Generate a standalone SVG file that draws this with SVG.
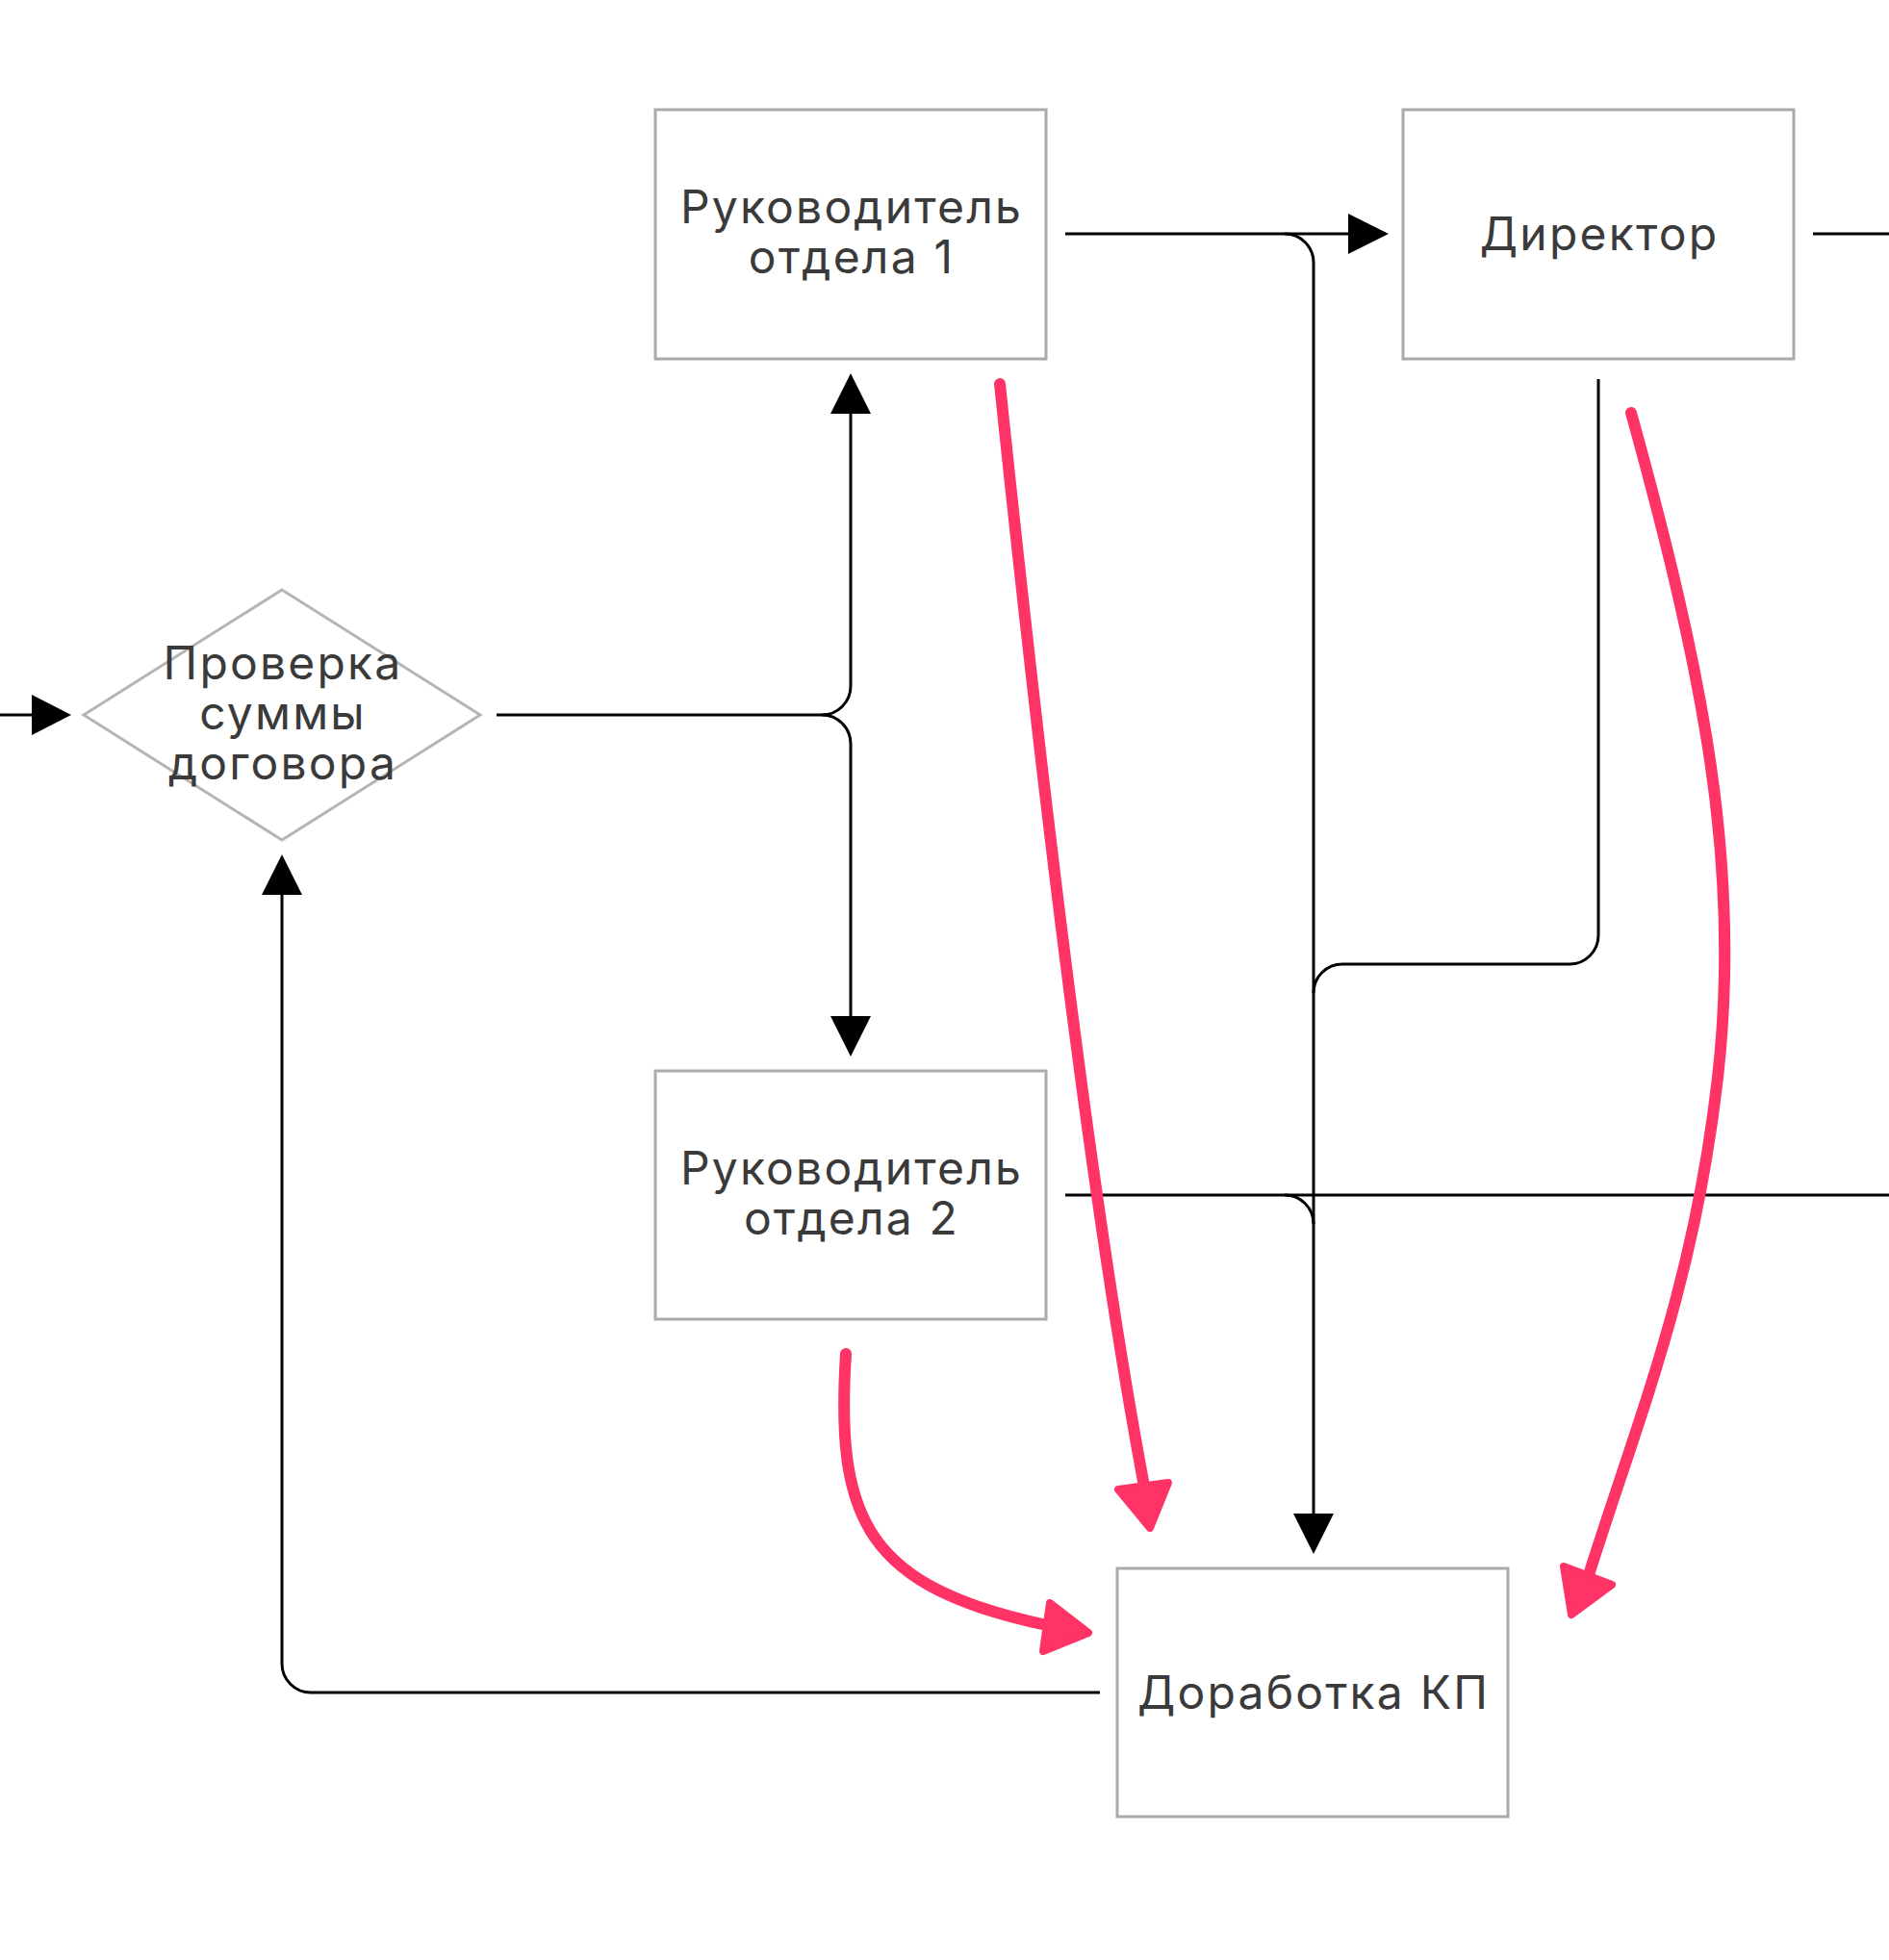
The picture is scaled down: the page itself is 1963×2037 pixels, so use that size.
<svg xmlns="http://www.w3.org/2000/svg" width="1963" height="2037" viewBox="0 0 1963 2037">
<style>
.box{fill:#fff;stroke:#aaaaaa;stroke-width:3}
.dia{fill:#fff;stroke:#b5b5b5;stroke-width:3}
.lbl{font-family:Inter,"Noto Sans",sans-serif;font-size:48px;fill:#3a3a3a;text-anchor:middle;letter-spacing:2.2px}
.ln{fill:none;stroke:#000;stroke-width:3}
.ah{fill:#000}
.pk{fill:none;stroke:#ff3366;stroke-width:12;stroke-linecap:round}
.pkh{fill:#ff3366;stroke:#ff3366;stroke-width:8;stroke-linejoin:round}
</style>
<rect width="1963" height="2037" fill="#fff"/>
<g id="connectors">
  <path class="ln" d="M0,743 H36"/>
  <polygon class="ah" points="33,722 74,743 33,764"/>
  <path class="ln" d="M516,743 H854 A30,30 0 0 0 884,713 V428"/>
  <path class="ln" d="M854,743 A30,30 0 0 1 884,773 V1058"/>
  <polygon class="ah" points="863,430 905,430 884,388"/>
  <polygon class="ah" points="863,1056 905,1056 884,1098"/>
  <path class="ln" d="M1107,243 H1403"/>
  <polygon class="ah" points="1401,222 1443,243 1401,264"/>
  <path class="ln" d="M1335,243 A30,30 0 0 1 1365,273 V1575"/>
  <polygon class="ah" points="1344,1573 1386,1573 1365,1615"/>
  <path class="ln" d="M1884,243 H1963"/>
  <path class="ln" d="M1661,394 V972 A30,30 0 0 1 1631,1002 H1395 A30,30 0 0 0 1365,1032"/>
  <path class="ln" d="M1107,1242 H1963"/>
  <path class="ln" d="M1335,1242 A30,30 0 0 1 1365,1272"/>
  <path class="ln" d="M1143,1759 H323 A30,30 0 0 1 293,1729 V928"/>
  <polygon class="ah" points="272,930 314,930 293,888"/>
</g>
<g id="n_check">
  <polygon class="dia" points="87,743 293,613 499,743 293,873"/>
  <text class="lbl" x="294" y="706">Проверка</text>
  <text class="lbl" x="294" y="758">суммы</text>
  <text class="lbl" x="294" y="810">договора</text>
</g>
<g id="n_head1">
  <rect class="box" x="681" y="114" width="406" height="259"/>
  <text class="lbl" x="885" y="232">Руководитель</text>
  <text class="lbl" x="885" y="284">отдела 1</text>
</g>
<g id="n_director">
  <rect class="box" x="1458" y="114" width="406" height="259"/>
  <text class="lbl" x="1662" y="260">Директор</text>
</g>
<g id="n_head2">
  <rect class="box" x="681" y="1113" width="406" height="258"/>
  <text class="lbl" x="885" y="1231">Руководитель</text>
  <text class="lbl" x="885" y="1283">отдела 2</text>
</g>
<g id="n_rework">
  <rect class="box" x="1161" y="1630" width="406" height="258"/>
  <text class="lbl" x="1365" y="1776">Доработка КП</text>
</g>
<g id="highlights">
  <path class="pk" d="M1039,399 Q1121,1185 1190,1550"/>
  <polygon class="pkh" points="1162,1548 1214,1541 1195,1588"/>
  <path class="pk" d="M879,1407 C868,1580 900,1650 1092,1690"/>
  <polygon class="pkh" points="1091,1666 1131,1697 1084,1716"/>
  <path class="pk" d="M1695,429 C1770,700 1810,900 1785,1120 S1700,1480 1650,1640"/>
  <polygon class="pkh" points="1625,1628 1675,1647 1633,1678"/>
</g>
</svg>
